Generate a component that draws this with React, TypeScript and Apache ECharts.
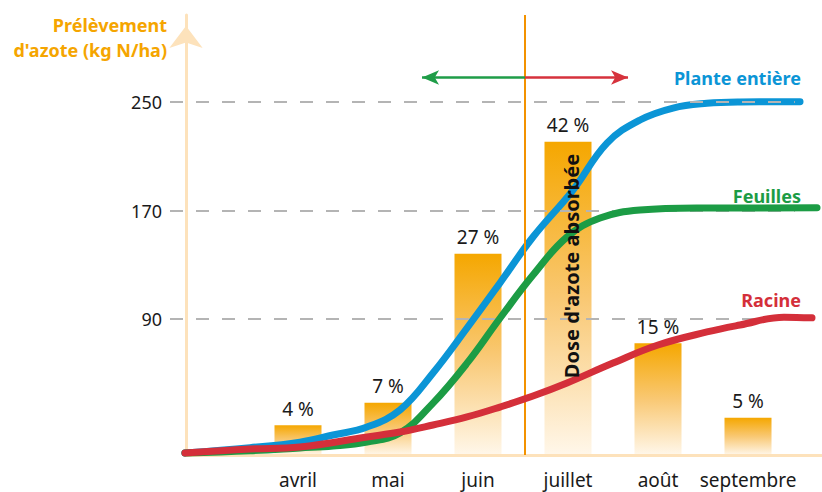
import React, { useEffect, useRef } from "react";
import * as echarts from "echarts";

// ---- data ----
const months = ["avril", "mai", "juin", "juillet", "août", "septembre"];
const monthPos = [0, 1, 2, 3, 4, 5];
const sharePct = [4, 7, 27, 42, 15, 5];
const yTicks = [90, 170, 250];

const planteX = [-1.256, -0.533, 0.022, 0.389, 0.767, 1.133, 1.5, 1.878, 2.244, 2.611, 3.056, 3.433, 3.8, 4.167, 4.544, 4.911, 5.578];
const planteY = [-8.5, -4.6, -0.5, 4.7, 10.6, 23.1, 50.4, 83.5, 116.7, 150.5, 185.1, 219.7, 236.7, 245.5, 249.0, 250.0, 250.2];

const feuillesX = [-1.256, -0.533, 0.022, 0.389, 0.767, 1.133, 1.5, 1.878, 2.244, 2.611, 2.989, 3.356, 3.8, 4.467, 5.767];
const feuillesY = [-8.5, -6.8, -4.8, -3.4, -0.4, 6.2, 28.2, 57.6, 90.7, 122.5, 150.5, 164.5, 170.4, 171.9, 172.0];

const racineX = [-1.256, -0.533, 0.022, 0.767, 1.133, 1.5, 1.878, 2.244, 2.611, 2.989, 3.5, 4.0, 4.544, 4.911, 5.4, 5.711];
const racineY = [-8.5, -5.6, -4.1, 3.3, 6.9, 12.1, 18.0, 25.3, 33.4, 43.0, 57.7, 71.0, 80.6, 85.7, 91.5, 91.0];

const seriesNames = ["Plante entière", "Feuilles", "Racine"];
const seriesColors = ["#0b95d6", "#1c9c45", "#d42f3a"];

// annotation positions (in data units of the axes)
const dividerX = 2.522; // between juin and juillet
const arrowY = 268;
const arrowLeftX = 1.378;
const arrowRightX = 3.667;

const X_MIN = -1.4222;
const X_MAX = 5.8222;
const Y_AXIS_X = -1.2444;
const DASH_END = 5.52;
const Y_MIN = -10;
const Y_MAX = 314;

const FONT = '"Noto Sans", "Open Sans", sans-serif';

const zip = (xs: number[], ys: number[]) => xs.map((x, i) => [x, ys[i]]);

export default function App() {
  const ref = useRef<HTMLDivElement>(null);
  useEffect(() => {
    if (!ref.current) return;
    const chart = echarts.init(ref.current, null, { renderer: "svg" });
    const barGradient = new echarts.graphic.LinearGradient(0, 0, 0, 1, [
      { offset: 0, color: "#f5a700" },
      { offset: 0.5, color: "#f9c873" },
      { offset: 1, color: "#fff7ea" },
    ]);
    const curve = (name: string, color: string, xs: number[], ys: number[], z: number) => ({
      type: "line",
      name,
      data: zip(xs, ys),
      xAxisIndex: 0,
      yAxisIndex: 0,
      smooth: 0.4,
      showSymbol: false,
      symbol: "none",
      z,
      lineStyle: { color, width: 7, cap: "round", join: "round" },
      silent: true,
    });
    const option: any = {
      animation: false,
      grid: { left: 170, right: 0, top: 15, bottom: 37, containLabel: false },
      xAxis: {
        type: "value",
        min: X_MIN,
        max: X_MAX,
        axisLine: { show: false, onZero: false },
        axisTick: { show: false },
        splitLine: { show: false },
        axisLabel: {
          customValues: monthPos,
          formatter: (v: number) => months[Math.round(v)] ?? "",
          fontFamily: FONT,
          fontSize: 19,
          color: "#1a1a1a",
          margin: 15,
        },
      },
      yAxis: [
        {
          type: "value",
          min: Y_MIN,
          max: Y_MAX,
          offset: -16,
          axisLine: {
            show: true,
            onZero: false,
            lineStyle: { color: "#fde2bb", width: 3 },
            symbol: ["none", "arrow"],
            symbolSize: [25, 22],
            symbolOffset: [0, -11],
          },
          axisTick: { show: false },
          splitLine: { show: false },
          axisLabel: {
            customValues: yTicks,
            fontFamily: FONT,
            fontSize: 18,
            color: "#1a1a1a",
            margin: 24,
          },
        },
        { type: "value", min: 0, max: 59, show: false },
      ],
      series: [
        {
          type: "line",
          data: [[0, Y_MIN]],
          showSymbol: false,
          symbol: "none",
          lineStyle: { opacity: 0 },
          z: 1,
          silent: true,
          markLine: {
            silent: true,
            symbol: "none",
            label: { show: false },
            data: [
              ...yTicks.map((v) => [
                { coord: [X_MIN, v], lineStyle: { color: "#b4b4b4", width: 2, type: [13, 13] } },
                { coord: [DASH_END, v] },
              ]),
              [
                { coord: [Y_AXIS_X, Y_MIN], lineStyle: { color: "#fde2bb", width: 3, type: "solid" } },
                { coord: [X_MAX, Y_MIN] },
              ],
            ],
          },
        },
        {
          type: "bar",
          data: zip(monthPos, sharePct),
          xAxisIndex: 0,
          yAxisIndex: 1,
          barWidth: 47,
          z: 2,
          silent: true,
          itemStyle: { color: barGradient },
          label: {
            show: true,
            position: "top",
            distance: 7,
            formatter: (p: any) => `${p.value[1]} %`,
            fontFamily: FONT,
            fontSize: 19,
            color: "#1a1a1a",
          },
        },
        {
          type: "line",
          data: [[0, Y_MIN]],
          showSymbol: false,
          symbol: "none",
          lineStyle: { opacity: 0 },
          z: 3,
          silent: true,
          markLine: {
            silent: true,
            symbol: "none",
            label: { show: false },
            data: [
              [
                { coord: [dividerX, Y_MIN], lineStyle: { color: "#f39200", width: 2, type: "solid" } },
                { coord: [dividerX, Y_MAX] },
              ],
              [
                {
                  coord: [arrowLeftX, arrowY],
                  symbol: "arrow",
                  symbolSize: [11, 17],
                  lineStyle: { color: "#1f9d48", width: 2.5, type: "solid" },
                },
                { coord: [dividerX, arrowY], symbol: "none" },
              ],
              [
                {
                  coord: [dividerX, arrowY],
                  symbol: "none",
                  lineStyle: { color: "#d6323c", width: 2.5, type: "solid" },
                },
                { coord: [arrowRightX, arrowY], symbol: "arrow", symbolSize: [11, 17] },
              ],
            ],
          },
        },
        curve(seriesNames[0], seriesColors[0], planteX, planteY, 4),
        curve(seriesNames[1], seriesColors[1], feuillesX, feuillesY, 5),
        curve(seriesNames[2], seriesColors[2], racineX, racineY, 6),
      ],
      graphic: [
        {
          type: "text",
          x: 167,
          y: 12,
          z: 10,
          style: {
            text: "Prélèvement\nd'azote (kg N/ha)",
            align: "right",
            verticalAlign: "top",
            font: `bold 18px ${FONT}`,
            fill: "#f5a500",
            lineHeight: 25,
          },
        },
        {
          type: "text",
          x: 801,
          y: 78,
          z: 10,
          style: { text: seriesNames[0], align: "right", verticalAlign: "middle", font: `bold 18px ${FONT}`, fill: seriesColors[0] },
        },
        {
          type: "text",
          x: 801,
          y: 196,
          z: 10,
          style: { text: seriesNames[1], align: "right", verticalAlign: "middle", font: `bold 18px ${FONT}`, fill: seriesColors[1] },
        },
        {
          type: "text",
          x: 801,
          y: 300,
          z: 10,
          style: { text: seriesNames[2], align: "right", verticalAlign: "middle", font: `bold 18px ${FONT}`, fill: seriesColors[2] },
        },
        {
          type: "text",
          x: 571,
          y: 266,
          rotation: Math.PI / 2,
          z: 10,
          style: {
            text: "Dose d'azote absorbée",
            align: "center",
            verticalAlign: "middle",
            font: `bold 20px ${FONT}`,
            fill: "#111111",
          },
        },
      ],
    };
    chart.setOption(option);
    return () => chart.dispose();
  }, []);
  return <div ref={ref} style={{ width: 822, height: 492, position: "absolute", left: 0, top: 0 }} />;
}
